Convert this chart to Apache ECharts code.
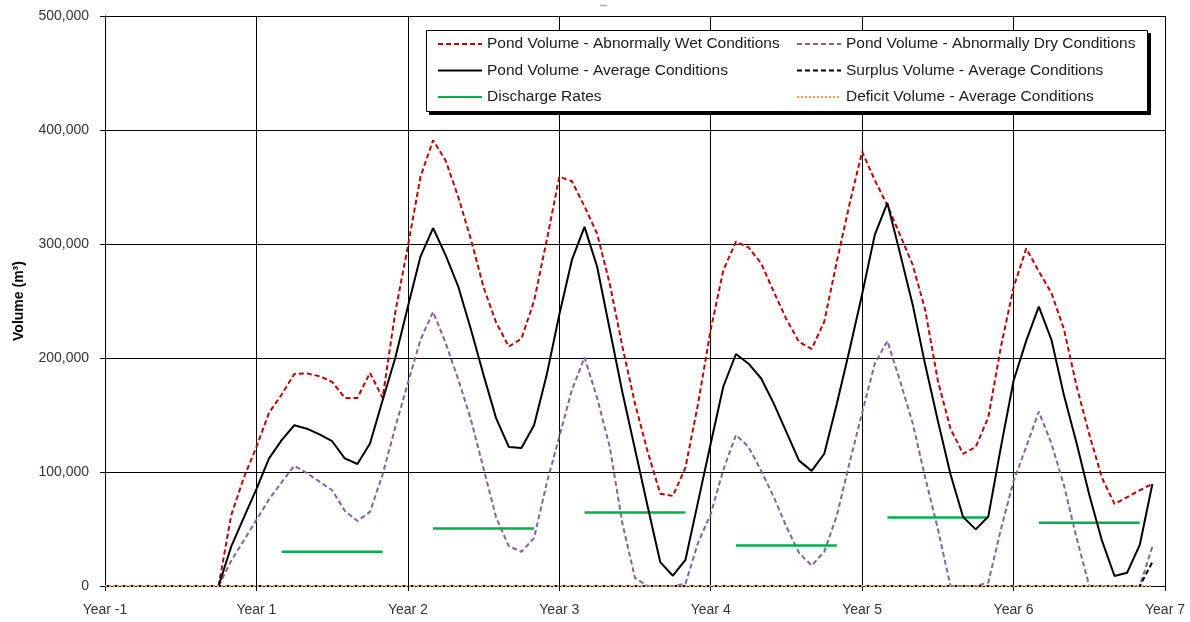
<!DOCTYPE html>
<html>
<head>
<meta charset="utf-8">
<script src="https://cdn.jsdelivr.net/npm/echarts@6/dist/echarts.min.js"></script>
<style>
html,body{margin:0;padding:0;background:#fff;}
#chart{width:1190px;height:622px;}
</style>
</head>
<body>
<div id="chart"></div>
<script>
// ---- DATA ----
// x positions are months counted from the "Year -1" tick (12 months per year tick)
const xTickLabels = ['Year -1','Year 1','Year 2','Year 3','Year 4','Year 5','Year 6','Year 7'];
const startMonth = 9; // first month of the pond volume series

const wetVolume = [0,62000,95000,122000,152000,168000,186000,186500,184000,179000,165000,165000,187000,165000,
  240000,298000,359000,391000,373000,341000,304000,262000,231000,210000,217000,250000,
  303000,359000,355000,333000,309000,265000,210000,160000,118000,81000,79000,104000,
  160000,225000,277000,302000,297000,283000,258000,234000,214000,208000,232000,285000,
  335000,381000,356000,334000,308000,282000,242000,180000,138000,116000,122000,148000,
  210000,262000,296000,276000,257000,225000,175000,133000,95000,72000,78000,84000,89500];

const dryVolume = [0,22000,40000,58000,76000,91000,105500,99000,91500,84000,66000,57000,65000,98000,
  139000,178000,216000,240500,213000,181000,146000,103000,60000,35000,30000,42000,
  90000,131000,172000,200500,165000,122000,55000,7000,0,0,0,2000,
  38000,63000,102000,132500,122000,101000,78000,52000,29000,18000,30000,62000,
  108000,152000,195000,215000,180000,143000,95000,50000,0,0,0,3000,
  50000,92000,122000,153000,125000,88000,42000,0,0,0,0,0,34500];

const avgVolume = [0,34500,60000,85000,112000,128000,141000,138000,133000,127000,112000,107000,125000,163000,
  200000,245000,289000,314000,290000,262500,225000,185000,147000,122000,121000,141000,
  185000,238000,286000,315000,280000,225000,170000,120000,70000,21000,9000,23000,
  74000,125000,175000,203500,195000,182000,160000,135000,110000,101000,116000,160000,
  207000,256000,308000,336000,292000,247000,194000,145000,98000,60500,49700,61000,
  122000,180000,215000,245000,216000,167000,125000,80000,40000,8800,11700,36000,89500];

// Surplus / deficit (average conditions), months 0..83
const surplusMonths = [0, 82, 83];
const surplusVolume = [0, 0, 21000];
const deficitMonths = [0, 83];
const deficitVolume = [0, 0];

// Discharge rates: constant over month ranges
const dischargeStart = [14, 26, 38, 50, 62, 74];
const dischargeEnd   = [22, 34, 46, 58, 70, 82];
const dischargeRate  = [30000, 50500, 64500, 35500, 60000, 55500];

const seriesNames = [
  'Pond Volume - Abnormally Wet Conditions',
  'Pond Volume - Abnormally Dry Conditions',
  'Pond Volume - Average Conditions',
  'Surplus Volume - Average Conditions',
  'Discharge Rates',
  'Deficit Volume - Average Conditions'
];

// ---- build ----
const toPairs = arr => arr.map((v, i) => [startMonth + i, v]);
const zip = (xs, ys) => xs.map((x, i) => [x, ys[i]]);
const dischargeData = [];
dischargeStart.forEach((s, i) => {
  dischargeData.push([s, dischargeRate[i]]);
  dischargeData.push([dischargeEnd[i], dischargeRate[i]]);
  if (i < dischargeStart.length - 1) dischargeData.push([(dischargeEnd[i] + dischargeStart[i + 1]) / 2, '-']);
});

const FONT = '"Liberation Sans", Arial, sans-serif';
const chart = echarts.init(document.getElementById('chart'), null, {renderer: 'canvas'});
const legendText = {fontFamily: FONT, fontSize: 15.5, color: '#1a1a1a'};
const legendCommon = {
  orient: 'vertical', top: 36, padding: 0, itemWidth: 44, itemHeight: 14, itemGap: 10.5,
  textStyle: legendText, itemStyle: {opacity: 0}, lineStyle: {width: 2}
};

chart.setOption({
  animation: false,
  backgroundColor: '#fff',
  grid: {left: 105, right: 25, top: 16, bottom: 36, show: false},
  legend: [
    Object.assign({}, legendCommon, {left: 437, data: [seriesNames[0], seriesNames[2], seriesNames[4]]}),
    Object.assign({}, legendCommon, {left: 796, data: [seriesNames[1], seriesNames[3], seriesNames[5]]})
  ],
  graphic: [
    {
      type: 'rect', z: 3, silent: true,
      shape: {x: 429.5, y: 33.5, width: 721, height: 81},
      style: {fill: '#000', stroke: '#000', lineWidth: 1}
    },
    {
      type: 'rect', z: 3, silent: true,
      shape: {x: 426.5, y: 30.5, width: 721, height: 81},
      style: {fill: '#fff', stroke: '#000', lineWidth: 1}
    },
    {
      type: 'line', z: 3, silent: true,
      shape: {x1: 600, y1: 5.5, x2: 607, y2: 5.5},
      style: {stroke: '#aaa', lineWidth: 1.5}
    }
  ],
  xAxis: {
    type: 'value', min: 0, max: 84, interval: 12,
    axisLine: {show: true, onZero: false, lineStyle: {color: '#000', width: 1}},
    axisTick: {show: true, inside: false, length: 5, lineStyle: {color: '#000'}},
    axisLabel: {
      margin: 17, fontFamily: FONT, fontSize: 14, color: '#333',
      formatter: v => xTickLabels[Math.round(v / 12)]
    },
    splitLine: {show: true, lineStyle: {color: '#000', width: 1}}
  },
  yAxis: {
    type: 'value', min: 0, max: 500000, interval: 100000,
    name: 'Volume (m³)', nameLocation: 'middle', nameGap: 79,
    nameTextStyle: {fontFamily: FONT, fontSize: 14, fontWeight: 'bold', color: '#000'},
    axisLine: {show: true, lineStyle: {color: '#000', width: 1}},
    axisTick: {show: true, inside: false, length: 5, lineStyle: {color: '#000'}},
    axisLabel: {
      margin: 16, fontFamily: FONT, fontSize: 14, color: '#333',
      formatter: v => v.toLocaleString('en-US')
    },
    splitLine: {show: true, lineStyle: {color: '#000', width: 1}}
  },
  series: [
    {
      name: seriesNames[0], type: 'line', data: toPairs(wetVolume), symbol: 'none', z: 5,
      itemStyle: {color: '#C00000'},
      lineStyle: {color: '#C00000', width: 2, type: [5, 3]}
    },
    {
      name: seriesNames[1], type: 'line', data: toPairs(dryVolume), symbol: 'none', z: 5,
      itemStyle: {color: '#8064A2'},
      lineStyle: {color: '#8064A2', width: 2, type: [5, 3]}
    },
    {
      name: seriesNames[2], type: 'line', data: toPairs(avgVolume), symbol: 'none', z: 6,
      itemStyle: {color: '#000'},
      lineStyle: {color: '#000', width: 2, type: 'solid'}
    },
    {
      name: seriesNames[3], type: 'line', data: zip(surplusMonths, surplusVolume), symbol: 'none', z: 6,
      itemStyle: {color: '#000'},
      lineStyle: {color: '#000', width: 2, type: [5, 3]}
    },
    {
      name: seriesNames[4], type: 'line', data: dischargeData, symbol: 'none', z: 5, connectNulls: false,
      itemStyle: {color: '#00B050'},
      lineStyle: {color: '#00B050', width: 2.5, type: 'solid'}
    },
    {
      name: seriesNames[5], type: 'line', data: zip(deficitMonths, deficitVolume), symbol: 'none', z: 7,
      itemStyle: {color: '#F79646'},
      lineStyle: {color: '#F79646', width: 2, type: [2, 2]}
    }
  ]
});
</script>
</body>
</html>
